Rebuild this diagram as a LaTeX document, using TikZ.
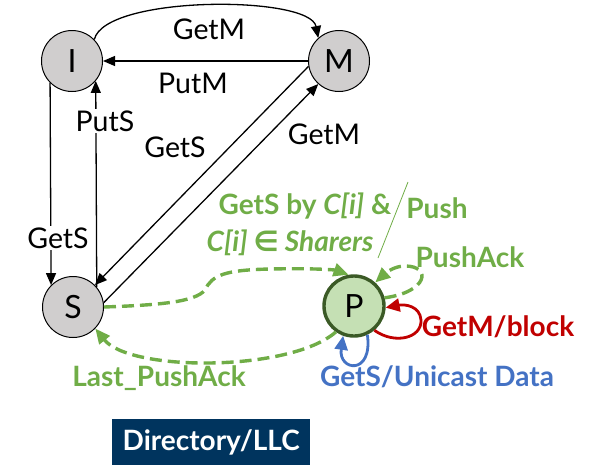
\documentclass[tikz,border=0pt]{standalone}
\usepackage{fontspec}
\setmainfont{Lato}
\newfontfamily\symfont{DejaVu Sans}
\usetikzlibrary{arrows.meta}

\definecolor{stategray}{HTML}{D0CECE}
\definecolor{pushgreen}{HTML}{70AD47}
\definecolor{pdark}{HTML}{3B5A26}
\definecolor{pfill}{HTML}{C5E0B4}
\definecolor{blockred}{HTML}{C00000}
\definecolor{dataBlue}{HTML}{4472C4}
\definecolor{navy}{HTML}{00345E}

\tikzset{
  state/.style={circle, draw=black, line width=1pt, fill=stategray,
    minimum size=61pt, inner sep=0pt, font=\fontsize{32}{36}\selectfont},
  pstate/.style={state, draw=pdark, fill=pfill, line width=3.4pt, minimum size=60pt},
  trans/.style={line width=1.3pt, -{Triangle[length=12pt,width=10pt]}},
  lbl/.style={font=\fontsize{28.5}{32}\selectfont, inner sep=1pt},
  gap/.style={lbl, fill=white, inner sep=2pt},
  greenlbl/.style={font=\fontsize{28}{32}\selectfont\bfseries, text=pushgreen, inner sep=1pt},
  pushpath/.style={pushgreen, line width=3.4pt, dash pattern=on 12pt off 6pt,
    -{Triangle[length=15pt,width=13pt]}},
  selfloop/.style={line width=2.8pt, -{Triangle[length=14pt,width=13pt]}},
}

\begin{document}
\begin{tikzpicture}[x=1pt,y=-1pt]
  \useasboundingbox (0,0) rectangle (593,464);

  % states
  \node[state]  (I) at (72,61)  {I};
  \node[state]  (M) at (339,61) {M};
  \node[state]  (S) at (73,307) {S};
  \node[pstate] (P) at (354,306) {P};

  % stable-state transitions
  \draw[trans] (I.44) .. controls (105,-5) and (310,-5) .. (M.132);
  \node[lbl] (lGetMtop) at (209,29) {GetM};

  \draw[trans] (M.180) -- (I.0);
  \node[lbl] (lPutM) at (193,83) {PutM};

  \draw[trans] (I.225) -- (S.135);
  \node[gap] (lGetSleft) at (58,238) {GetS};

  \draw[trans] (S.40) -- (I.320);
  \node[gap] (lPutS) at (105,121) {PutS};

  \draw[trans] (M.190) -- (S.45);
  \node[lbl] (lGetSdiag) at (175,147) {GetS};

  \draw[trans] (S.8) -- (M.228);
  \node[lbl] (lGetMdiag) at (324,134) {GetM};

  % push transitions
  \draw[pushpath] (S.0) .. controls (160,305) and (195,302) .. (205,290)
    .. controls (212,275) and (225,270) .. (270,269)
    .. controls (315,268) and (335,270) .. (P.100);
  \draw[pushpath] (P.235) .. controls (290,372) and (130,372) .. (S.316);
  \draw[pushpath] (P.15) .. controls (428,292) and (432,266) .. (405,266)
    .. controls (396,266) and (388,271) .. (P.48);

  % request handling while in P
  \draw[selfloop, blockred] (P.310) .. controls (395,345) and (422,338) .. (421,320)
    .. controls (420,306) and (405,304) .. (P.357);
  \draw[selfloop, dataBlue] (P.295) .. controls (373,376) and (338,371) .. (P.250);

  % green annotation
  \node[greenlbl, align=left] (lGetSby) at (305,206) {GetS by \textit{C[i]} \&};
  \node[greenlbl] (lSharers) at (290,243) {\textit{C[i] {\symfont∈} Sharers}};
  \coordinate (slashTop) at (408,182);
  \coordinate (slashBot) at (378,258);
  \draw[pushgreen, line width=0.8pt] (slashTop) -- (slashBot);
  \node[greenlbl] (lPush) at (437,208) {Push};
  \node[greenlbl] (lPushAck) at (470,257) {PushAck};
  \node[greenlbl] (lLast) at (159,378) {Last\_PushAck};
  \node[greenlbl, text=blockred] (lBlock) at (498,327) {GetM/block};
  \node[greenlbl, text=dataBlue] (lUnicast) at (437,377) {GetS/Unicast Data};

  % caption box
  \node[fill=navy, text=white, font=\fontsize{28}{32}\selectfont\bfseries,
    minimum width=198pt, minimum height=46pt, anchor=north west, inner sep=0pt]
    (caption) at (112,419) {\raisebox{-2pt}{Directory/LLC}};
\end{tikzpicture}
\end{document}
